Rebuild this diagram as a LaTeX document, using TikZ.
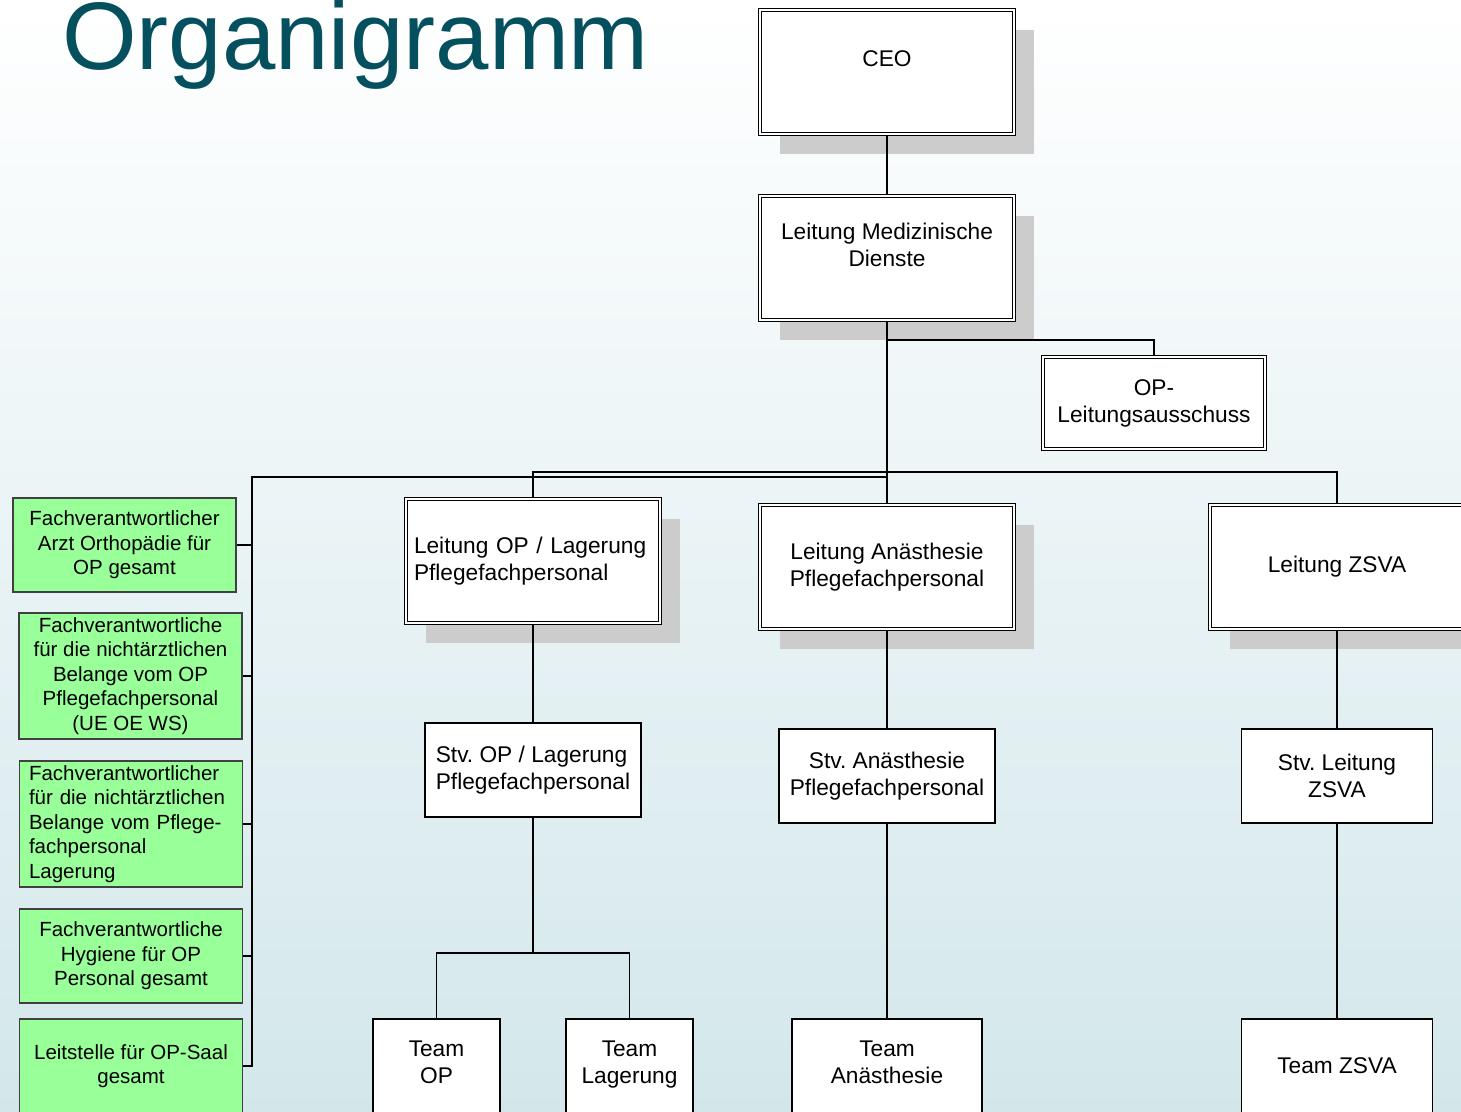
\documentclass[tikz,border=0pt]{standalone}
\usepackage{fontspec}
\setmainfont{Liberation Sans}
\usepackage{xcolor}
\usetikzlibrary{shadows, positioning, calc}
\definecolor{titleblue}{HTML}{05505F}
\definecolor{bgtop}{HTML}{FFFFFF}
\definecolor{bgmid}{HTML}{E7F1F3}
\definecolor{bgbot}{HTML}{D3E7EB}
\definecolor{boxgreen}{HTML}{99FF99}
\definecolor{shadowgray}{HTML}{CCCCCC}
\newcommand\boxfont{\fontsize{22.7}{27}\selectfont}
\newcommand\greenfont{\fontsize{20.5}{24.5}\selectfont}
\frenchspacing

\begin{document}
\begin{tikzpicture}[x=1pt, y=-1pt,
    conn/.style={line width=1.6pt},
    dbox/.style={draw, double, line width=1.3pt, double distance=1.4pt, fill=white, align=center, font=\boxfont},
    lead/.style={dbox, minimum width=254pt, minimum height=124pt,
      drop shadow={shadow xshift=20pt, shadow yshift=-20pt, fill=shadowgray, opacity=1}},
    sbox/.style={draw, line width=1.6pt, fill=white, align=center, font=\boxfont, minimum height=94pt},
    gbox/.style={draw=black!75, line width=1.6pt, fill=boxgreen, align=center, font=\greenfont, minimum width=223pt}]

  \useasboundingbox (0,0) rectangle (1461,1111);
  \clip (0,0) rectangle (1461,1111);
  \shade[top color=bgtop, middle color=bgmid, bottom color=bgbot] (0,0) rectangle (1461,1111);

  \node[anchor=base west, inner sep=0pt, text=titleblue, font=\fontsize{96}{100}\selectfont] (title) at (62,69) {Organigramm};

  \coordinate (J1) at (887,340);
  \coordinate (B1) at (887,472);
  \coordinate (B2) at (887,477);
  \coordinate (R) at (252,1066);
  \coordinate (J2) at (533,953);

  \node[lead] (CEO) at (887,72) {CEO\\\mbox{}};
  \node[lead] (LMD) at (887,258) {Leitung Medizinische\\Dienste\\\mbox{}};
  \node[dbox, minimum width=222pt, minimum height=92pt] (OPL) at (1154,403) {OP-\\Leitungsausschuss};
  \node[lead, align=left, text width=238pt, inner xsep=8pt] (LOP) at (533,561) {Leitung OP / Lagerung\\Pflegefachpersonal};
  \node[lead] (LAN) at (887,567) {Leitung Anästhesie\\Pflegefachpersonal};
  \node[lead] (LZS) at (1337,567) {Leitung ZSVA};

  \node[sbox, minimum width=216pt, align=left] (SOP) at (533,770) {Stv. OP / Lagerung\\Pflegefachpersonal};
  \node[sbox, minimum width=216pt] (SAN) at (887,776) {Stv. Anästhesie\\Pflegefachpersonal};
  \node[sbox, minimum width=191pt] (SZS) at (1337,776) {Stv. Leitung\\ZSVA};
  \node[sbox, minimum width=127pt] (TOP) at (436.5,1066) {Team\\OP\strut};
  \node[sbox, minimum width=127pt] (TLA) at (629.5,1066) {Team\\Lagerung\strut};
  \node[sbox, minimum width=190pt] (TAN) at (887,1066) {Team\\Anästhesie\strut};
  \node[sbox, minimum width=191pt] (TZS) at (1337,1066) {Team ZSVA};

  \node[gbox, minimum height=94pt] (G1) at (124.5,545) {Fachverantwortlicher\\Arzt Orthopädie für\\OP gesamt};
  \node[gbox, minimum height=126pt] (G2) at (130.5,676) {Fachverantwortliche\\für die nichtärztlichen\\Belange vom OP\\Pflegefachpersonal\\(UE OE WS)};
  \node[gbox, minimum height=126pt, align=left, text width=204pt, inner xsep=9.5pt] (G3) at (131,824) {Fachverantwortlicher\\für die nichtärztlichen\\Belange vom Pflege-\\fachpersonal\\Lagerung};
  \node[gbox, minimum height=94pt] (G4) at (131,956) {Fachverantwortliche\\Hygiene für OP\\Personal gesamt};
  \node[gbox, minimum height=94pt] (G5) at (131,1066) {Leitstelle für OP-Saal\\gesamt};

  \draw[conn] (CEO) -- (LMD);
  \draw[conn] (LMD) -- (LAN);
  \draw[conn] (J1) -| (OPL);
  \draw[conn] (LOP) |- (B1) -| (LZS);
  \draw[conn] (B2) -| (R) -- (G5);
  \foreach \g in {G1,G2,G3,G4} \draw[conn] (\g) -- (\g -| R);
  \draw[conn] (LOP) -- (SOP) -- (J2);
  \draw[conn] (TOP) |- (J2) -| (TLA);
  \draw[conn] (LAN) -- (SAN) -- (TAN);
  \draw[conn] (LZS) -- (SZS) -- (TZS);
\end{tikzpicture}
\end{document}
